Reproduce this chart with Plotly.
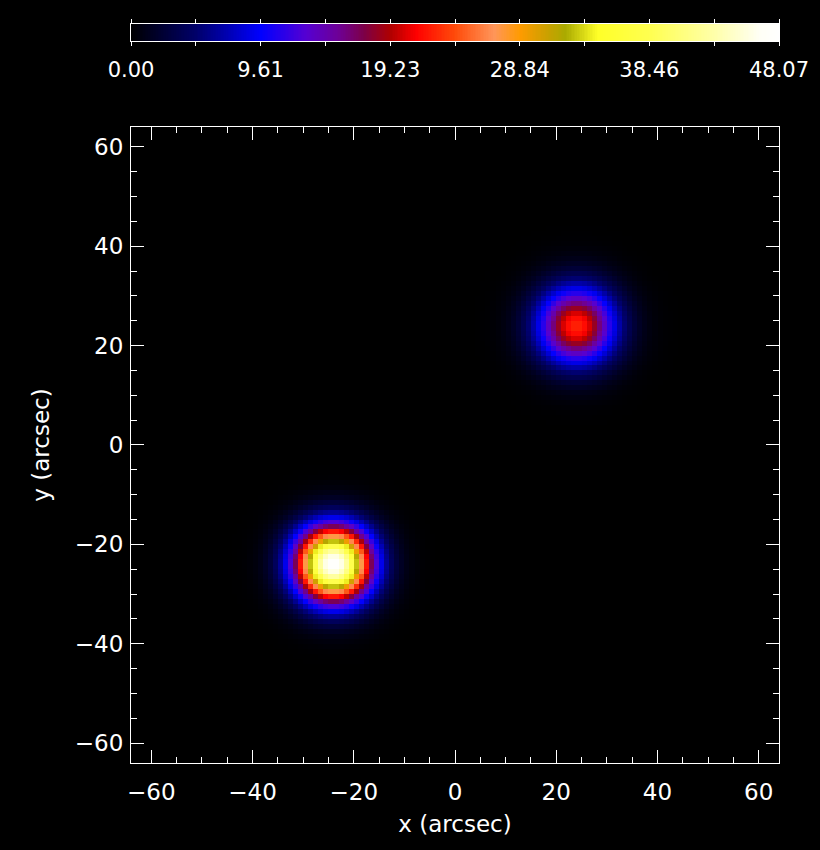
import numpy as np
import plotly.graph_objects as go

# ---- data ----
src_x = [-24.0, 24.0]          # arcsec
src_y = [-24.0, 24.0]          # arcsec
src_peak = [48.07, 22.5]       # image units
src_sigma = [5.2, 5.5]         # arcsec

pix_centers = np.arange(-64, 64) + 0.5   # 1 arcsec pixels, 128 x 128
cbar_min, cbar_max = 0.0, 48.07
cbar_labels = ["0.00", "9.61", "19.23", "28.84", "38.46", "48.07"]
axis_ticks = [-60, -40, -20, 0, 20, 40, 60]

# ---- image model ----
X, Y = np.meshgrid(pix_centers, pix_centers)
img = np.zeros_like(X)
for x0, y0, p, s in zip(src_x, src_y, src_peak, src_sigma):
    img += p * np.exp(-((X - x0) ** 2 + (Y - y0) ** 2) / (2 * s ** 2))

# IDL-like "STD GAMMA-II" colour table
colorscale = [
    [0.00, "rgb(0,0,0)"],
    [0.10, "rgb(0,0,105)"],
    [0.20, "rgb(0,0,255)"],
    [0.27, "rgb(85,0,210)"],
    [0.32, "rgb(110,0,150)"],
    [0.36, "rgb(125,0,70)"],
    [0.40, "rgb(175,0,0)"],
    [0.44, "rgb(255,0,0)"],
    [0.50, "rgb(255,75,10)"],
    [0.56, "rgb(255,150,90)"],
    [0.60, "rgb(255,155,0)"],
    [0.64, "rgb(205,160,0)"],
    [0.67, "rgb(170,170,0)"],
    [0.72, "rgb(255,255,40)"],
    [0.80, "rgb(255,255,80)"],
    [0.90, "rgb(255,255,170)"],
    [0.97, "rgb(255,255,245)"],
    [1.00, "rgb(255,255,255)"],
]

font_family = "DejaVu Sans"
fig = go.Figure()

fig.add_trace(go.Heatmap(
    x=pix_centers, y=pix_centers, z=img,
    colorscale=colorscale, zmin=cbar_min, zmax=cbar_max,
    zsmooth=False, showscale=False, hoverinfo="skip",
    xaxis="x", yaxis="y",
))

# colour bar drawn as its own small image
grad = np.linspace(cbar_min, cbar_max, 400)
fig.add_trace(go.Heatmap(
    x=grad, y=[0], z=[grad],
    colorscale=colorscale, zmin=cbar_min, zmax=cbar_max,
    zsmooth=False, showscale=False, hoverinfo="skip",
    xaxis="x2", yaxis="y2",
))

cb_tickvals = list(np.linspace(cbar_min, cbar_max, 11))
cb_ticktext = [cbar_labels[i // 2] if i % 2 == 0 else "" for i in range(11)]

axis_common = dict(
    range=[-64, 64], tickvals=axis_ticks, ticks="inside", ticklen=13,
    tickwidth=1, tickcolor="white", showline=True, linecolor="white",
    linewidth=1, mirror="allticks", showgrid=False, zeroline=False,
    tickfont=dict(family=font_family, size=23, color="white"),
    minor=dict(dtick=5, tick0=0, ticks="inside", ticklen=6,
               tickcolor="white", tickwidth=1, showgrid=False),
)

fig.update_layout(
    width=820, height=850,
    paper_bgcolor="black", plot_bgcolor="black",
    margin=dict(l=131, r=41, t=20, b=87),
    xaxis=dict(**axis_common, domain=[0, 1], anchor="y",
               ticklabelstandoff=8,
               title=dict(text="x (arcsec)", standoff=12,
                          font=dict(family=font_family, size=23, color="white"))),
    yaxis=dict(**axis_common, domain=[0, 0.856], anchor="x",
               ticklabelstandoff=2,
               title=dict(text="y (arcsec)", standoff=18,
                          font=dict(family=font_family, size=23, color="white"))),
    xaxis2=dict(domain=[0, 1], anchor="y2", range=[cbar_min, cbar_max],
                tickvals=cb_tickvals, ticktext=cb_ticktext,
                ticks="outside", ticklen=4, tickcolor="white", tickwidth=1,
                showline=True, linecolor="white", linewidth=1,
                mirror="allticks", showgrid=False, zeroline=False,
                ticklabelstandoff=6,
                tickfont=dict(family=font_family, size=21, color="white")),
    yaxis2=dict(domain=[0.9717, 0.9946], anchor="x2", range=[-0.5, 0.5],
                showticklabels=False, ticks="", showline=True,
                linecolor="white", linewidth=1, mirror=True,
                showgrid=False, zeroline=False),
)

fig.write_html("out.html",
               config={"displayModeBar": False},
               post_script="document.body.style.margin='0';"
                           "document.body.style.background='black';")
